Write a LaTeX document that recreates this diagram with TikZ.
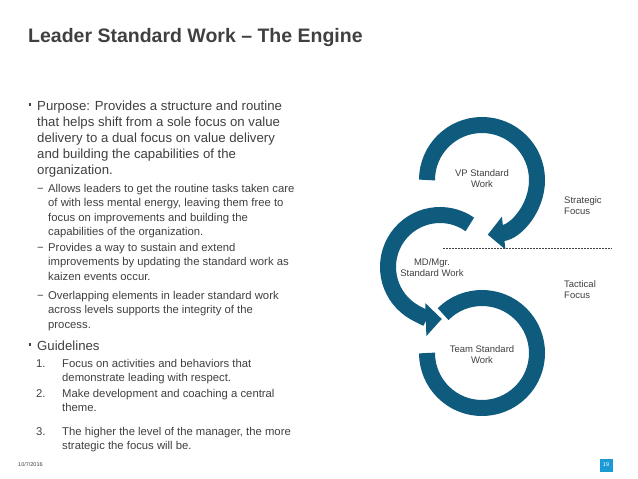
\documentclass[tikz,border=0pt]{standalone}
\usepackage{fontspec}
\setmainfont{Liberation Sans}
\usetikzlibrary{arrows.meta}
\definecolor{ring}{HTML}{0F5B7E}
\definecolor{txt}{HTML}{404040}
\definecolor{pg}{HTML}{1C9AD6}
\begin{document}
\begin{tikzpicture}[x=1pt,y=1pt,
  ln/.style={anchor=base west,inner sep=0pt,text=txt,font=\fontsize{13.2}{15}\selectfont},
  sl/.style={anchor=base west,inner sep=0pt,text=txt,font=\fontsize{11.3}{13}\selectfont},
  lbl/.style={align=center,text=txt,font=\fontsize{9.5}{11}\selectfont,inner sep=0pt},
  ringarc/.style={draw=ring,line width=16pt,-{Triangle[width=32pt,length=16pt]}},
  ringplain/.style={draw=ring,line width=16pt}]
\useasboundingbox (0,0) rectangle (638,-479);
\fill[white] (0,0) rectangle (638,-479);
\node[anchor=west,inner sep=0pt,text=txt,font=\fontsize{19.5}{22}\bfseries] (title) at (28,-38) {Leader Standard Work – The Engine};
% bullets
\fill[txt] (28.5,-103) rectangle (31,-105.5);
\node[ln] (p1) at (37,-110) {Purpose: Provides a structure and routine};
\node[ln] (p2) at (37,-126) {that helps shift from a sole focus on value};
\node[ln] (p3) at (37,-142) {delivery to a dual focus on value delivery};
\node[ln] (p4) at (37,-158) {and building the capabilities of the};
\node[ln] (p5) at (37,-174) {organization.};
\node[sl] (d1) at (37,-192) {−};
\node[sl] (a1) at (48,-192) {Allows leaders to get the routine tasks taken care};
\node[sl] (a2) at (48,-206.5) {of with less mental energy, leaving them free to};
\node[sl] (a3) at (48,-221) {focus on improvements and building the};
\node[sl] (a4) at (48,-235.5) {capabilities of the organization.};
\node[sl] (d2) at (37,-251) {−};
\node[sl] (b1) at (48,-251) {Provides a way to sustain and extend};
\node[sl] (b2) at (48,-265.5) {improvements by updating the standard work as};
\node[sl] (b3) at (48,-280) {kaizen events occur.};
\node[sl] (d3) at (37,-299) {−};
\node[sl] (c1) at (48,-299) {Overlapping elements in leader standard work};
\node[sl] (c2) at (48,-313.5) {across levels supports the integrity of the};
\node[sl] (c3) at (48,-328) {process.};
\fill[txt] (28.5,-343) rectangle (31,-345.5);
\node[ln] (g) at (37,-350) {Guidelines};
\node[sl] (n1) at (36,-367) {1.};
\node[sl] (e1) at (62,-367) {Focus on activities and behaviors that};
\node[sl] (e2) at (62,-381.5) {demonstrate leading with respect.};
\node[sl] (n2) at (36,-397) {2.};
\node[sl] (f1) at (62,-397) {Make development and coaching a central};
\node[sl] (f2) at (62,-411.5) {theme.};
\node[sl] (n3) at (36,-435) {3.};
\node[sl] (h1) at (62,-435) {The higher the level of the manager, the more};
\node[sl] (h2) at (62,-449.5) {strategic the focus will be.};
\node[anchor=west,inner sep=0pt,text=txt,font=\fontsize{5.5}{6}\selectfont] (date) at (18,-465) {10/7/2016};
% rings
\draw[ringarc] (440,-267) ++(55:52) arc[start angle=55,end angle=272,radius=52];
\draw[ringplain] (482,-353) ++(135:55) arc[start angle=135,end angle=-180,radius=55];
\draw[ringarc] (482,-180) ++(180:55) arc[start angle=180,end angle=-84,radius=55];
\draw[dashed,txt,line width=0.5pt,dash pattern=on 2pt off 1pt] (443,-248) coordinate (ds) -- (612,-248) coordinate (de);
\node[lbl] (vp) at (482,-179) {VP Standard\\Work};
\node[lbl] (md) at (432,-268) {MD/Mgr.\\Standard Work};
\node[lbl] (tm) at (482,-355) {Team Standard\\Work};
\node[lbl,align=left,anchor=west] (sf) at (564,-206) {Strategic\\Focus};
\node[lbl,align=left,anchor=west] (tf) at (564,-290) {Tactical\\Focus};
\node[fill=pg,text=white,minimum width=13pt,minimum height=13pt,inner sep=0pt,font=\fontsize{5.5}{6}\selectfont] (pgn) at (606,-465) {19};
\end{tikzpicture}
\end{document}
